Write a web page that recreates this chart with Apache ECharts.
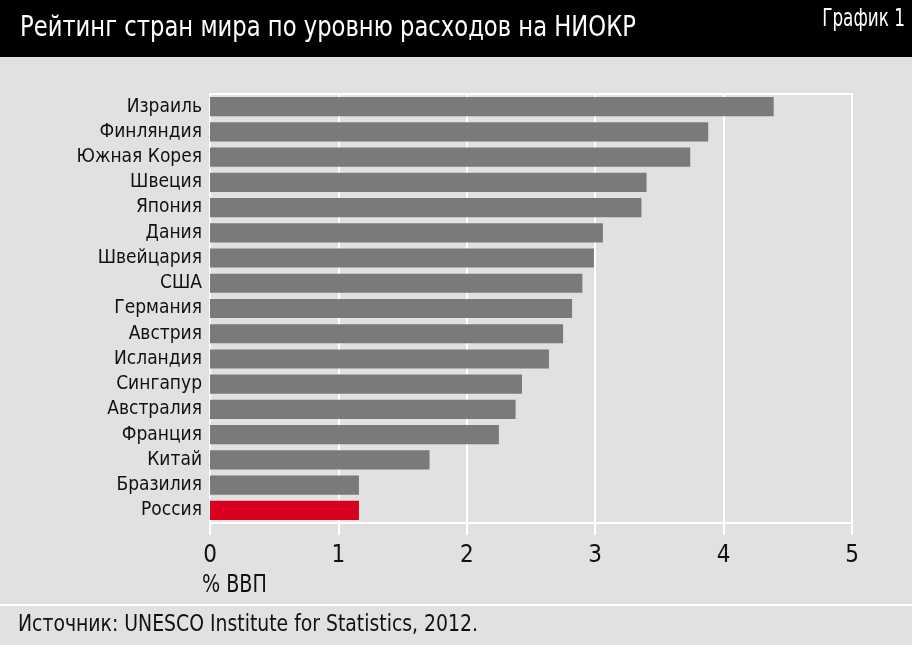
<!DOCTYPE html>
<html><head><meta charset="utf-8">
<script src="https://cdn.jsdelivr.net/npm/echarts@6/dist/echarts.min.js"></script>
<style>html,body{margin:0;padding:0;background:#e1e1e1}#c{width:912px;height:645px}</style>
</head><body><div id="c"></div>
<script>
const categories = ['Израиль','Финляндия','Южная Корея','Швеция','Япония','Дания','Швейцария','США','Германия','Австрия','Исландия','Сингапур','Австралия','Франция','Китай','Бразилия','Россия'];
const values = [4.39,3.88,3.74,3.40,3.36,3.06,2.99,2.90,2.82,2.75,2.64,2.43,2.38,2.25,1.71,1.16,1.16];
const highlight = 'Россия';
const xTicks = [0,1,2,3,4,5];
const FONT = '"DejaVu Sans Condensed","DejaVu Sans",sans-serif';
const chart = echarts.init(document.getElementById('c'));
chart.setOption({
  backgroundColor: '#e1e1e1',
  animation: false,
  grid: {left: 210, top: 94, width: 642, height: 429, show: true, borderColor: '#ffffff', borderWidth: 2, backgroundColor: 'transparent'},
  xAxis: {
    type: 'value', min: xTicks[0], max: xTicks[xTicks.length-1], interval: 1,
    axisLine: {show: false},
    axisTick: {show: true, length: 12, lineStyle: {color: '#ffffff', width: 2}},
    splitLine: {show: true, lineStyle: {color: '#ffffff', width: 2}},
    axisLabel: {margin: 21, fontFamily: FONT, fontSize: 24, color: '#111'}
  },
  yAxis: {
    type: 'category', data: categories, inverse: true,
    axisLine: {show: false}, axisTick: {show: false},
    axisLabel: {margin: 8, fontFamily: FONT, fontSize: 19, color: '#111'}
  },
  series: [{
    type: 'bar', barCategoryGap: '24%',
    data: values.map((v,i)=>({value: v, itemStyle: {color: categories[i]===highlight ? '#d9001f' : '#7a7a7a'}}))
  }],
  graphic: [
    {type: 'rect', shape: {x: 0, y: 0, width: 912, height: 57}, style: {fill: '#000'}},
    {type: 'text', x: 20, y: 28, scaleX: 0.87, style: {text: 'Рейтинг стран мира по уровню расходов на НИОКР', fill: '#fff', font: '29px ' + FONT, verticalAlign: 'middle'}},
    {type: 'text', x: 905, y: 20, scaleX: 0.78, style: {text: 'График 1', fill: '#fff', font: '24px ' + FONT, align: 'right', verticalAlign: 'middle'}},
    {type: 'text', x: 202, y: 585, scaleX: 0.85, style: {text: '% ВВП', fill: '#111', font: '25px ' + FONT, verticalAlign: 'middle'}},
    {type: 'rect', shape: {x: 0, y: 604, width: 912, height: 2}, style: {fill: '#fff'}},
    {type: 'text', x: 18, y: 625, scaleX: 0.91, style: {text: 'Источник: UNESCO Institute for Statistics, 2012.', fill: '#111', font: '23px ' + FONT, verticalAlign: 'middle'}}
  ]
});
</script></body></html>
